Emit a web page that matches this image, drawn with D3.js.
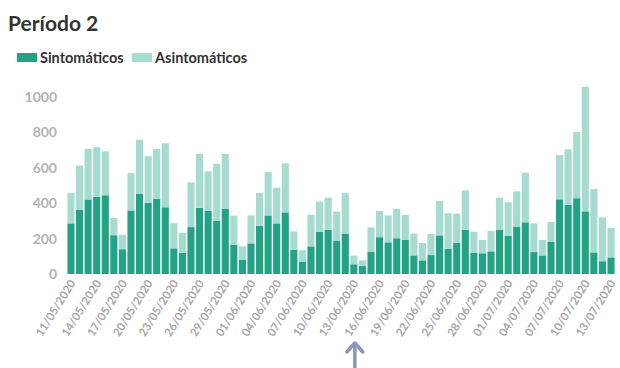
<!DOCTYPE html>
<html>
<head>
<meta charset="utf-8">
<script src="https://cdn.jsdelivr.net/npm/d3@7"></script>
<style>
  body { margin: 0; background: #fff; }
  svg { display: block; font-family: Lato, 'Open Sans', sans-serif; }
</style>
</head>
<body>
<div id="chart"></div>
<script>
// daily cases, 11/05/2020 .. 13/07/2020
const dates = [
  '11/05/2020', '12/05/2020', '13/05/2020', '14/05/2020', '15/05/2020', '16/05/2020', '17/05/2020',
  '18/05/2020', '19/05/2020', '20/05/2020', '21/05/2020', '22/05/2020', '23/05/2020', '24/05/2020',
  '25/05/2020', '26/05/2020', '27/05/2020', '28/05/2020', '29/05/2020', '30/05/2020', '31/05/2020',
  '01/06/2020', '02/06/2020', '03/06/2020', '04/06/2020', '05/06/2020', '06/06/2020', '07/06/2020',
  '08/06/2020', '09/06/2020', '10/06/2020', '11/06/2020', '12/06/2020', '13/06/2020', '14/06/2020',
  '15/06/2020', '16/06/2020', '17/06/2020', '18/06/2020', '19/06/2020', '20/06/2020', '21/06/2020',
  '22/06/2020', '23/06/2020', '24/06/2020', '25/06/2020', '26/06/2020', '27/06/2020', '28/06/2020',
  '29/06/2020', '30/06/2020', '01/07/2020', '02/07/2020', '03/07/2020', '04/07/2020', '05/07/2020',
  '06/07/2020', '07/07/2020', '08/07/2020', '09/07/2020', '10/07/2020', '11/07/2020', '12/07/2020',
  '13/07/2020',
];

const sintomaticos = [
  286, 364, 421, 436, 445, 219, 140, 359, 454, 402, 425, 377, 145, 120,
  265, 374, 358, 302, 370, 164, 79, 173, 273, 331, 286, 348, 136, 70,
  156, 239, 249, 189, 229, 55, 45, 126, 208, 179, 202, 194, 105, 77,
  107, 218, 143, 175, 249, 119, 117, 128, 249, 215, 268, 292, 124, 105,
  181, 422, 392, 428, 354, 122, 72, 94,
];

const totales = [
  458, 613, 707, 716, 693, 316, 222, 570, 759, 665, 706, 739, 287, 233,
  518, 678, 580, 623, 678, 330, 156, 331, 458, 576, 488, 625, 241, 134,
  335, 409, 431, 352, 457, 104, 77, 263, 355, 331, 368, 334, 228, 175,
  226, 412, 344, 341, 473, 239, 192, 243, 431, 405, 467, 572, 286, 192,
  294, 672, 704, 802, 1058, 480, 320, 260,
];

const asintomaticos = totales.map((t, i) => t - sintomaticos[i]);

const yTicks = [0, 200, 400, 600, 800, 1000];
const series = ['Sintomáticos', 'Asintomáticos'];

const size = { width: 620, height: 368 };
const margin = { left: 67, right: 5, top: 93, bottom: 94 };
const colors = { 'Sintomáticos': '#22a385', 'Asintomáticos': '#a6dbd0' };

const rows = dates.map((d, i) => ({
  date: d,
  'Sintomáticos': sintomaticos[i],
  'Asintomáticos': asintomaticos[i],
}));

const svg = d3.select('#chart')
  .append('svg')
  .attr('width', size.width)
  .attr('height', size.height);

// title + legend
svg.append('text')
  .attr('x', 8)
  .attr('y', 31)
  .attr('font-size', 21)
  .attr('font-weight', 700)
  .attr('fill', '#333')
  .text('Período 2');

const legend = svg.append('g').attr('transform', 'translate(17,53)');
const legendX = [0, 115];
series.forEach((s, i) => {
  legend.append('rect')
    .attr('x', legendX[i])
    .attr('y', 0)
    .attr('width', 20)
    .attr('height', 9)
    .attr('fill', colors[s]);
  legend.append('text')
    .attr('x', legendX[i] + 23)
    .attr('y', 10)
    .attr('font-size', 14.5)
    .attr('font-weight', 700)
    .attr('fill', '#333')
    .text(s);
});

const plotW = size.width - margin.left - margin.right;
const plotH = size.height - margin.top - margin.bottom;

const x = d3.scaleBand()
  .domain(dates)
  .range([0, plotW])
  .paddingInner(0.17)
  .paddingOuter(0.05);

const y = d3.scaleLinear().domain([0, 1000]).range([plotH, plotH - 177]);

const g = svg.append('g')
  .attr('transform', `translate(${margin.left},${margin.top})`);

// y axis, labels only
const yAxis = g.append('g')
  .call(d3.axisLeft(y).tickValues(yTicks).tickFormat(d3.format('d')).tickSize(0).tickPadding(10))
  .style('font-family', 'Lato, sans-serif')
  .style('font-size', '14px')
  .style('font-weight', 700)
  .attr('color', '#b3b3b3');
yAxis.select('.domain').remove();

// stacked bars
const stacked = d3.stack().keys(series)(rows);
g.selectAll('.layer')
  .data(stacked)
  .enter()
  .append('g')
  .attr('fill', (d) => colors[d.key])
  .selectAll('rect')
  .data((d) => d)
  .enter()
  .append('rect')
  .attr('x', (d) => x(d.data.date))
  .attr('y', (d) => y(d[1]))
  .attr('width', x.bandwidth())
  .attr('height', (d) => y(d[0]) - y(d[1]));

// x axis, every 3rd date, rotated
const xAxis = g.append('g')
  .attr('transform', `translate(0,${plotH})`)
  .call(d3.axisBottom(x)
    .tickValues(dates.filter((d, i) => i % 3 === 0))
    .tickSize(0)
    .tickPadding(0))
  .style('font-family', 'Lato, sans-serif')
  .style('font-size', '11.5px')
  .style('font-weight', 700)
  .attr('color', '#a6a6a6');
xAxis.select('.domain').remove();
xAxis.selectAll('text')
  .attr('text-anchor', 'end')
  .attr('dy', 0)
  .attr('transform', 'translate(5,9) rotate(-58)');

// annotation arrow under the axis
const ax = margin.left + x('13/06/2020') + x.bandwidth() / 2 + 1;
const arrow = svg.append('g')
  .attr('stroke', '#8797b5')
  .attr('stroke-width', 3.5)
  .attr('fill', 'none')
  .attr('stroke-linecap', 'round')
  .attr('stroke-linejoin', 'round');
arrow.append('line')
  .attr('x1', ax).attr('x2', ax)
  .attr('y1', 345).attr('y2', 368);
arrow.append('path')
  .attr('d', `M${ax - 8},${352} L${ax},${343} L${ax + 8},${352}`);
</script>
</body>
</html>
